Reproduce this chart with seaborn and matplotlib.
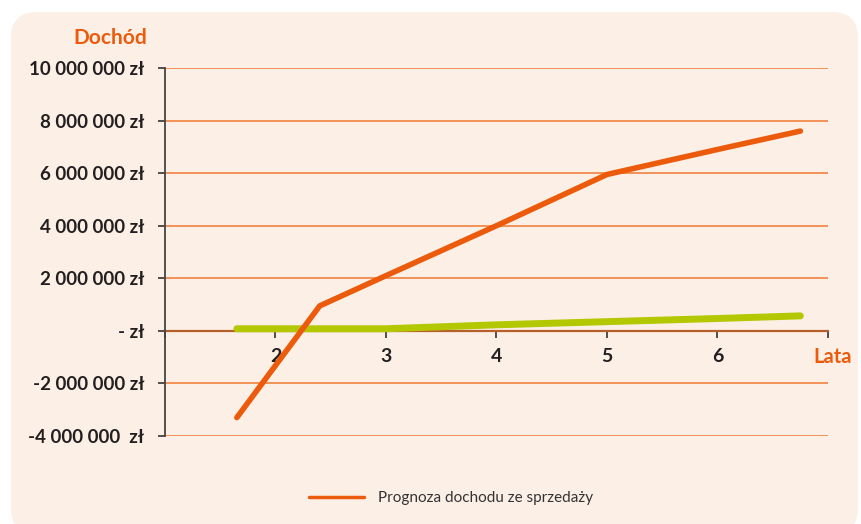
import numpy as np
import pandas as pd
import seaborn as sns
import matplotlib.pyplot as plt
from matplotlib.patches import FancyBboxPatch

# values (years, income in zł)
lata_prognoza = [1.65, 2.4, 3, 4, 5, 6, 6.75]
dochod_prognoza = [-3300000, 950000, 2100000, 4000000, 5950000, 6900000, 7600000]

lata_druga = [1.65, 3, 4, 5, 6, 6.75]
dochod_druga = [80000, 80000, 230000, 350000, 470000, 570000]

y_ticks = [-4000000, -2000000, 0, 2000000, 4000000, 6000000, 8000000, 10000000]
y_labels = ['-4 000 000  zł', '-2 000 000 zł', '- zł', '2 000 000 zł',
            '4 000 000 zł', '6 000 000 zł', '8 000 000 zł', '10 000 000 zł']
x_ticks = [1, 2, 3, 4, 5, 6, 7]
x_labels = ['', '2', '3', '4', '5', '6', '']

ORANGE = '#ec5b0c'
GREEN = '#b3c800'
GRID = '#f38a4e'
PANEL = '#fcefe6'

sns.set_theme(style='white')
plt.rcParams['font.family'] = ['Lato', 'DejaVu Sans']

fig = plt.figure(figsize=(8.62, 5.24), dpi=100)
fig.patch.set_facecolor('white')
panel = FancyBboxPatch((11 / 862, -10 / 524), 847 / 862, 522 / 524,
                       boxstyle='round,pad=0,rounding_size=0.03',
                       transform=fig.transFigure, facecolor=PANEL,
                       edgecolor='none', zorder=-5, mutation_aspect=862 / 524)
fig.patches.append(panel)

ax = fig.add_axes([165 / 862, 1 - 436 / 524, (828 - 165) / 862, (436 - 68) / 524])
ax.set_facecolor('none')
ax.set_zorder(2)

df1 = pd.DataFrame({'Lata': lata_prognoza, 'Dochód': dochod_prognoza})
df2 = pd.DataFrame({'Lata': lata_druga, 'Dochód': dochod_druga})

for y in y_ticks:
    if y != 0:
        ax.axhline(y, color=GRID, lw=1.3, zorder=1)

sns.lineplot(data=df2, x='Lata', y='Dochód', ax=ax, color=GREEN, lw=5,
             legend=False, zorder=3, label='_nolegend_')
sns.lineplot(data=df1, x='Lata', y='Dochód', ax=ax, color=ORANGE, lw=4,
             zorder=4, label='Prognoza dochodu ze sprzedaży')

for s in ['top', 'right']:
    ax.spines[s].set_visible(False)
ax.spines['left'].set_color('#444444')
ax.spines['left'].set_linewidth(1.3)
ax.spines['bottom'].set_position(('data', 0))
ax.spines['bottom'].set_color('#b5602a')
ax.spines['bottom'].set_linewidth(1.6)
ax.spines['bottom'].set_zorder(2)

ax.set_xlim(1, 7)
ax.set_ylim(-4000000, 10000000)
ax.set_xticks(x_ticks)
ax.set_xticklabels(x_labels, fontsize=14, fontweight='bold', color='#231f20')
ax.set_yticks(y_ticks)
ax.set_yticklabels(y_labels, fontsize=13.5, fontweight='bold', color='#231f20')
ax.tick_params(axis='y', length=5, width=1.2, color='#333333', pad=10, left=True)
ax.tick_params(axis='x', length=5, width=1.2, color='#333333', pad=7,
               bottom=True, direction='out')
ax.set_xlabel('')
ax.set_ylabel('')

fig.text(147 / 862, 1 - 38 / 524, 'Dochód', ha='right', va='center',
         fontsize=15, fontweight='bold', color=ORANGE)
fig.text(852 / 862, 1 - 357 / 524, 'Lata', ha='right', va='center',
         fontsize=14.5, fontweight='bold', color=ORANGE)

leg = ax.legend(loc='center', bbox_to_anchor=(451 / 862, 1 - 498 / 524),
                bbox_transform=fig.transFigure, frameon=False, fontsize=11,
                handlelength=3.6, handletextpad=0.9)
for t in leg.get_texts():
    t.set_color('#333333')
for h in leg.get_lines():
    h.set_linewidth(2.5)

fig.savefig('out.png', dpi=100)
